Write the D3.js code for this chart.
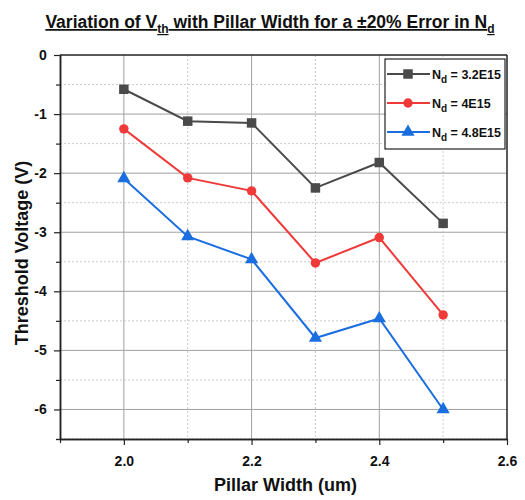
<!DOCTYPE html>
<html><head><meta charset="utf-8">
<script src="https://cdn.jsdelivr.net/npm/d3@7"></script>
<style>body{margin:0;background:#fff}svg{font-family:"Liberation Sans",Arial,sans-serif}</style>
</head><body>
<script>
const widths = [2.0, 2.1, 2.2, 2.3, 2.4, 2.5];
const vth32 = [-0.58, -1.12, -1.15, -2.25, -1.82, -2.85];
const vth40 = [-1.25, -2.08, -2.30, -3.52, -3.09, -4.40];
const vth48 = [-2.09, -3.07, -3.46, -4.79, -4.46, -6.00];
const seriesNames = ["3.2E15", "4E15", "4.8E15"];
const xTicks = [2.0, 2.2, 2.4, 2.6];
const yTicks = [0, -1, -2, -3, -4, -5, -6];

const W = 525, H = 500;
const m = {l: 60, r: 507, t: 55, b: 439};
const svg = d3.select("body").append("svg").attr("width", W).attr("height", H);
const x = d3.scaleLinear().domain([1.9, 2.6]).range([m.l, m.r]);
const y = d3.scaleLinear().domain([-6.5, 0]).range([m.b, m.t]);

// grid
const xMinor = d3.range(1.9, 2.61, 0.1).map(v => +v.toFixed(2)).filter(v => !xTicks.some(t => Math.abs(t - v) < 1e-6));
const yMinor = d3.range(-6.5, 0.01, 0.5).filter(v => !Number.isInteger(v));
const g = svg.append("g");
g.selectAll(".gx").data(xTicks.filter(v => v < 2.6)).join("line")
  .attr("x1", d => x(d)).attr("x2", d => x(d)).attr("y1", m.t).attr("y2", m.b)
  .attr("stroke", "#a0a0a0").attr("stroke-width", 1);
g.selectAll(".gxm").data(xMinor.filter(v => v > 1.95)).join("line")
  .attr("x1", d => x(d)).attr("x2", d => x(d)).attr("y1", m.t).attr("y2", m.b)
  .attr("stroke", "#cccccc").attr("stroke-width", 1).attr("stroke-dasharray", "2,2");
g.selectAll(".gy").data(yTicks.filter(v => v < 0)).join("line")
  .attr("x1", m.l).attr("x2", m.r).attr("y1", d => y(d)).attr("y2", d => y(d))
  .attr("stroke", "#a0a0a0").attr("stroke-width", 1);
g.selectAll(".gym").data(yMinor).join("line")
  .attr("x1", m.l).attr("x2", m.r).attr("y1", d => y(d)).attr("y2", d => y(d))
  .attr("stroke", "#cccccc").attr("stroke-width", 1).attr("stroke-dasharray", "2,2");

// frame top/right
svg.append("line").attr("x1", m.l).attr("x2", m.r).attr("y1", m.t).attr("y2", m.t).attr("stroke", "#222").attr("stroke-width", 1.5);
svg.append("line").attr("x1", m.r).attr("x2", m.r).attr("y1", m.t).attr("y2", m.b).attr("stroke", "#222").attr("stroke-width", 1.5);

// axes
const xAxis = svg.append("g").attr("transform", `translate(0,${m.b})`)
  .call(d3.axisBottom(x).tickValues(xTicks).tickFormat(d3.format(".1f")).tickSize(6).tickSizeOuter(0));
svg.append("g").attr("transform", `translate(0,${m.b})`)
  .call(d3.axisBottom(x).tickValues(xMinor).tickFormat("").tickSize(4).tickSizeOuter(0));
const yAxis = svg.append("g").attr("transform", `translate(${m.l},0)`)
  .call(d3.axisLeft(y).tickValues(yTicks).tickFormat(d => String(d)).tickSize(6).tickSizeOuter(0));
svg.append("g").attr("transform", `translate(${m.l},0)`)
  .call(d3.axisLeft(y).tickValues(yMinor.concat([-6.5])).tickFormat("").tickSize(4).tickSizeOuter(0));
svg.selectAll(".domain").attr("stroke", "#222").attr("stroke-width", 1.5);
svg.selectAll(".tick line").attr("stroke", "#222").attr("stroke-width", 1.2);
xAxis.selectAll("text").attr("font-size", 14).attr("font-weight", "bold").attr("fill", "#111").attr("dy", "1.25em");
yAxis.selectAll("text").attr("font-size", 14).attr("font-weight", "bold").attr("fill", "#111").attr("dx", "-0.3em");

// series
const series = [
  {vals: vth32, color: "#4a4a4a", shape: d3.symbolSquare, size: 90},
  {vals: vth40, color: "#f03a3a", shape: d3.symbolCircle, size: 70},
  {vals: vth48, color: "#1a6ee0", shape: d3.symbolTriangle, size: 75}
];
const line = d3.line().x((d, i) => x(widths[i])).y(d => y(d));
series.forEach(s => {
  svg.append("path").attr("d", line(s.vals)).attr("fill", "none").attr("stroke", s.color).attr("stroke-width", 2);
  svg.selectAll(null).data(s.vals).join("path")
    .attr("d", d3.symbol().type(s.shape).size(s.size))
    .attr("transform", (d, i) => `translate(${x(widths[i])},${y(d)})`)
    .attr("fill", s.color);
});

// legend
const lg = svg.append("g");
lg.append("rect").attr("x", 385).attr("y", 59).attr("width", 120).attr("height", 90)
  .attr("fill", "#fff").attr("stroke", "#222").attr("stroke-width", 1.2);
const ly = [74, 103, 132];
series.forEach((s, i) => {
  lg.append("line").attr("x1", 387).attr("x2", 430).attr("y1", ly[i]).attr("y2", ly[i]).attr("stroke", s.color).attr("stroke-width", 2);
  lg.append("path").attr("d", d3.symbol().type(s.shape).size(s.size)).attr("transform", `translate(408,${ly[i]})`).attr("fill", s.color);
  const t = lg.append("text").attr("x", 432).attr("y", ly[i] + 5).attr("font-size", 12.5).attr("font-weight", "bold").attr("fill", "#111");
  t.append("tspan").text("N");
  t.append("tspan").text("d").attr("font-size", 10).attr("dy", 4);
  t.append("tspan").text(" = " + seriesNames[i]).attr("dy", -4);
});

// title
const title = svg.append("text").attr("x", 270).attr("y", 28).attr("text-anchor", "middle")
  .attr("font-size", 17.5).attr("font-weight", "bold").attr("fill", "#111").attr("text-decoration", "underline");
title.append("tspan").text("Variation of V");
title.append("tspan").text("th").attr("font-size", 12).attr("dy", 5);
title.append("tspan").text(" with Pillar Width for a ±20% Error in N").attr("dy", -5);
title.append("tspan").text("d").attr("font-size", 12).attr("dy", 5);

// axis titles
svg.append("text").attr("x", (m.l + m.r) / 2 + 2).attr("y", 491).attr("text-anchor", "middle")
  .attr("font-size", 18).attr("font-weight", "bold").attr("fill", "#111").text("Pillar Width (um)");
svg.append("text").attr("transform", `translate(28,${(m.t + m.b) / 2 + 6}) rotate(-90)`).attr("text-anchor", "middle")
  .attr("font-size", 18).attr("font-weight", "bold").attr("fill", "#111").text("Threshold Voltage (V)");
</script>
</body></html>
